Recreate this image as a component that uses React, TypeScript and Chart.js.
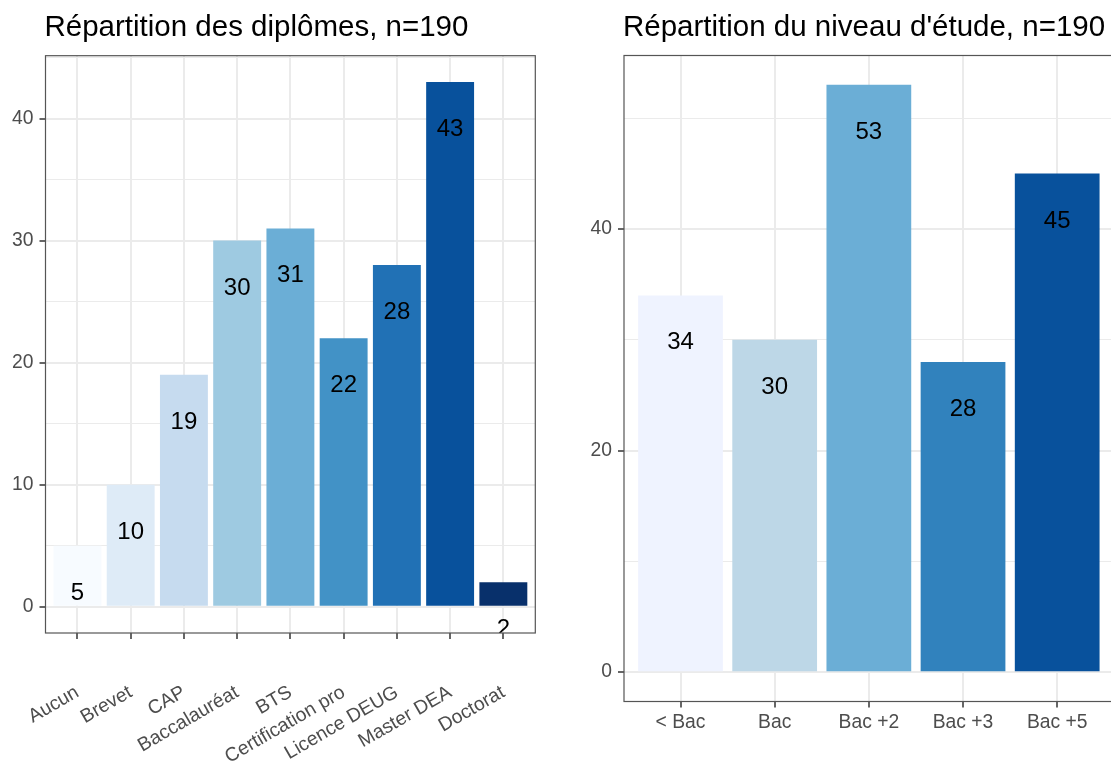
import React, { useEffect, useRef } from 'react';
import { Chart, registerables } from 'chart.js';

Chart.register(...registerables);

// ---- Data ----
const diplomaTitle = 'Répartition des diplômes, n=190';
const diplomaLabels = ['Aucun', 'Brevet', 'CAP', 'Baccalauréat', 'BTS', 'Certification pro', 'Licence DEUG', 'Master DEA', 'Doctorat'];
const diplomaCounts = [5, 10, 19, 30, 31, 22, 28, 43, 2];
const diplomaColors = ['#F7FBFF', '#DEEBF7', '#C6DBEF', '#9ECAE1', '#6BAED6', '#4292C6', '#2171B5', '#08519C', '#08306B'];
const diplomaYTicks = [0, 5, 10, 15, 20, 25, 30, 35, 40, 45];
const diplomaYMajor = [0, 10, 20, 30, 40];

const levelTitle = "Répartition du niveau d'étude, n=190";
const levelLabels = ['< Bac', 'Bac', 'Bac +2', 'Bac +3', 'Bac +5'];
const levelCounts = [34, 30, 53, 28, 45];
const levelColors = ['#EFF3FF', '#BDD7E7', '#6BAED6', '#3182BD', '#08519C'];
const levelYTicks = [0, 10, 20, 30, 40, 50];
const levelYMajor = [0, 20, 40];

const FONT = '"Liberation Sans", Arial, Helvetica, sans-serif';

type PanelProps = {
  title: string;
  labels: string[];
  counts: number[];
  colors: string[];
  yTicks: number[];
  yMajor: number[];
  left: number;
  yAxisWidth: number;
  padRight: number;
  padTop: number;
  xAxisHeight: number;
  rotation: number;
  xPadding: number;
};

function Panel(p: PanelProps) {
  const ref = useRef<HTMLCanvasElement | null>(null);
  useEffect(() => {
    if (!ref.current) return;
    const maxV = Math.max(...p.counts);
    const n = p.labels.length;
    const xTicks = p.labels.map((_, i) => i);
    const decor = {
      id: 'decor',
      afterDatasetsDraw(chart: any) {
        const { ctx, chartArea: a } = chart;
        const meta = chart.getDatasetMeta(0);
        ctx.save();
        ctx.beginPath();
        ctx.rect(a.left, a.top, a.right - a.left, a.bottom - a.top);
        ctx.clip();
        ctx.font = `24px ${FONT}`;
        ctx.fillStyle = '#000';
        ctx.textAlign = 'center';
        ctx.textBaseline = 'alphabetic';
        meta.data.forEach((bar: any, i: number) => {
          ctx.fillText(String(p.counts[i]), bar.x, bar.y + 54);
        });
        ctx.restore();
        ctx.save();
        ctx.strokeStyle = '#555';
        ctx.lineWidth = 1.2;
        ctx.strokeRect(a.left, a.top, a.right - a.left, a.bottom - a.top);
        ctx.restore();
        ctx.save();
        ctx.font = `29.5px ${FONT}`;
        ctx.fillStyle = '#000';
        ctx.textAlign = 'left';
        ctx.textBaseline = 'alphabetic';
        ctx.fillText(p.title, a.left - 1, 36);
        ctx.restore();
      },
    };
    const chart = new Chart(ref.current, {
      type: 'bar',
      data: {
        datasets: [
          {
            data: p.counts.map((v, i) => ({ x: i, y: v })),
            backgroundColor: p.colors,
            borderWidth: 0,
            barPercentage: 0.9,
            categoryPercentage: 1,
          },
        ],
      },
      options: {
        responsive: false,
        animation: false,
        devicePixelRatio: 1,
        layout: { padding: { top: p.padTop, right: p.padRight, bottom: 0, left: 0 } },
        plugins: { legend: { display: false }, tooltip: { enabled: false }, title: { display: false } },
        scales: {
          x: {
            type: 'linear',
            min: -0.6,
            max: n - 1 + 0.6,
            bounds: 'data',
            offset: false,
            afterBuildTicks: (s: any) => {
              s.ticks = xTicks.map((v) => ({ value: v }));
            },
            afterFit: (s: any) => {
              s.height = p.xAxisHeight;
              s.paddingLeft = 0;
              s.paddingRight = 0;
            },
            grid: {
              offset: false,
              color: '#ebebeb',
              lineWidth: 2,
              tickColor: '#333',
              tickWidth: 1.5,
              tickLength: 6,
            },
            border: { display: false },
            ticks: {
              autoSkip: false,
              maxRotation: p.rotation,
              minRotation: p.rotation,
              padding: p.xPadding,
              color: '#4d4d4d',
              font: { family: FONT, size: 19.3 },
              callback: (v: any) => p.labels[Math.round(Number(v))] ?? '',
            },
          },
          y: {
            type: 'linear',
            min: -0.05 * maxV,
            max: 1.05 * maxV,
            bounds: 'data',
            afterBuildTicks: (s: any) => {
              s.ticks = p.yTicks.map((v) => ({ value: v }));
            },
            afterFit: (s: any) => {
              s.width = p.yAxisWidth;
              s.paddingTop = 0;
              s.paddingBottom = 0;
            },
            grid: {
              color: '#ebebeb',
              lineWidth: (c: any) => (c.tick && p.yMajor.includes(c.tick.value) ? 2 : 1),
              tickColor: (c: any) => (c.tick && p.yMajor.includes(c.tick.value) ? '#333' : 'rgba(0,0,0,0)'),
              tickWidth: 1.5,
              tickLength: 6,
            },
            border: { display: false },
            ticks: {
              autoSkip: false,
              padding: 6,
              color: '#4d4d4d',
              font: { family: FONT, size: 19.3 },
              callback: (v: any) => (p.yMajor.includes(Number(v)) ? String(v) : ''),
            },
          },
        },
      } as any,
      plugins: [decor],
    });
    return () => chart.destroy();
  }, []);
  return (
    <canvas
      ref={ref}
      width={560}
      height={764}
      style={{ position: 'absolute', left: p.left, top: 0, width: 560, height: 764 }}
    />
  );
}

export default function App() {
  return (
    <div
      style={{
        position: 'fixed',
        left: 0,
        top: 0,
        width: 1111,
        height: 764,
        overflow: 'hidden',
        background: '#fff',
      }}
    >
      <Panel
        title={diplomaTitle}
        labels={diplomaLabels}
        counts={diplomaCounts}
        colors={diplomaColors}
        yTicks={diplomaYTicks}
        yMajor={diplomaYMajor}
        left={0}
        yAxisWidth={45.5}
        padRight={24.7}
        padTop={55.7}
        xAxisHeight={131}
        rotation={30}
        xPadding={42}
      />
      <Panel
        title={levelTitle}
        labels={levelLabels}
        counts={levelCounts}
        colors={levelColors}
        yTicks={levelYTicks}
        yMajor={levelYMajor}
        left={560}
        yAxisWidth={64}
        padRight={6.3}
        padTop={55.5}
        xAxisHeight={62.5}
        rotation={0}
        xPadding={3.5}
      />
    </div>
  );
}
